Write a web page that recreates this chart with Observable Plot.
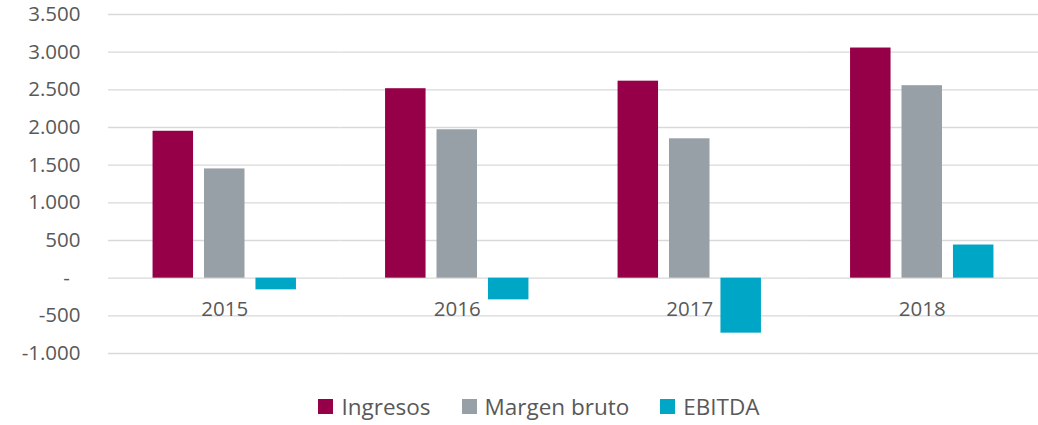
<!DOCTYPE html>
<html>
<head>
<meta charset="utf-8">
<script src="https://cdn.jsdelivr.net/npm/d3@7"></script>
<script src="https://cdn.jsdelivr.net/npm/@observablehq/plot@0.6"></script>
<style>
  html, body { margin: 0; padding: 0; background: #fff; }
  body { width: 1038px; height: 425px; overflow: hidden; font-family: "Open Sans", sans-serif; }
  #legend { display: flex; justify-content: center; align-items: center; height: 45px; box-sizing: border-box; padding-top: 8px; padding-left: 40px; color: #595959; font-size: 22.5px; }
  .item { display: flex; align-items: center; margin: 0 15.5px; }
  .sw { width: 15px; height: 15px; margin-right: 8px; }
</style>
</head>
<body>
<div id="chart"></div>
<div id="legend"></div>
<script>
const years = ["2015", "2016", "2017", "2018"];
const seriesNames = ["Ingresos", "Margen bruto", "EBITDA"];
const seriesColors = ["#960048", "#979fa7", "#00a6c5"];
const ingresos = [1950, 2515, 2615, 3055];
const margenBruto = [1450, 1970, 1850, 2555];
const ebitda = [-155, -288, -730, 440];
const yTicks = [-1000, -500, 0, 500, 1000, 1500, 2000, 2500, 3000, 3500];

const seriesValues = [ingresos, margenBruto, ebitda];
const rows = [];
years.forEach((yr, i) => {
  seriesNames.forEach((s, j) => rows.push({year: yr, serie: s, value: seriesValues[j][i]}));
});

const loc = d3.formatLocale({decimal: ",", thousands: ".", grouping: [3], currency: ["", ""], minus: "-"});
const fmt = loc.format(",");
const tickFmt = v => v === 0 ? "-\u00a0\u00a0" : fmt(v);

const chart = Plot.plot({
  width: 1038,
  height: 380,
  marginLeft: 108,
  marginRight: 0,
  marginTop: 14,
  marginBottom: 27,
  style: {fontFamily: "'Open Sans', sans-serif", fontSize: "20.5px", color: "#595959", background: "#fff"},
  fx: {domain: years, padding: 0, axis: null, round: false},
  x: {domain: seriesNames, paddingInner: 0.213, paddingOuter: 0.866, axis: null, round: false},
  y: {domain: [-1000, 3500], axis: null},
  color: {domain: seriesNames, range: seriesColors},
  marks: [
    Plot.ruleY(yTicks, {stroke: "#d9d9d9", strokeWidth: 1.3}),
    Plot.barY(rows, {fx: "year", x: "serie", y: "value", fill: "serie"}),
    Plot.axisY(yTicks, {tickSize: 0, tickPadding: 28, tickFormat: tickFmt, fill: "#595959", fontSize: 20.5, label: null}),
    Plot.text(years, {fx: d => d, y: d => 0, text: d => d, dy: 31, fill: "#595959", fontSize: 20.5})
  ]
});
document.getElementById("chart").appendChild(chart);

const legend = document.getElementById("legend");
seriesNames.forEach((s, i) => {
  const it = document.createElement("div");
  it.className = "item";
  const sw = document.createElement("span");
  sw.className = "sw";
  sw.style.background = seriesColors[i];
  const t = document.createElement("span");
  t.textContent = s;
  it.appendChild(sw); it.appendChild(t);
  legend.appendChild(it);
});
</script>
</body>
</html>
